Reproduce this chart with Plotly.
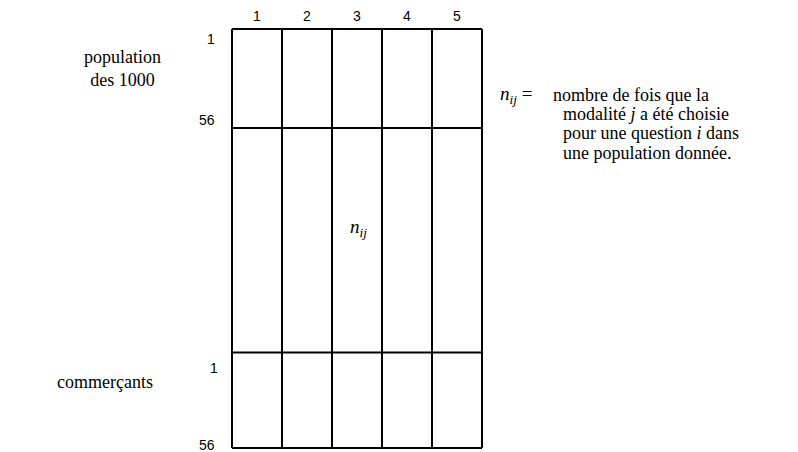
import plotly.graph_objects as go

# modalities (columns) and the three row blocks of the table
modalites = [1, 2, 3, 4, 5]
blocs = ["population<br>des 1000", "", "commerçants"]
bloc_hauteurs = [56, 127, 54]          # logical heights of the blocks
row_labels_top = ["1", "56"]
row_labels_bottom = ["1", "56"]
cell_label = "n<sub><i>ij</i></sub>"
legende = ["nombre de fois que la",
           "modalité <i>j</i> a été choisie",
           "pour une question <i>i</i> dans",
           "une population donnée."]

serif = "Liberation Serif, Times New Roman, serif"
sans = "Liberation Sans, Arial, sans-serif"

edges_x = [m - 0.5 for m in modalites] + [modalites[-1] + 0.5]
edges_y = [0]
for h in bloc_hauteurs:
    edges_y.append(edges_y[-1] + h)

xs, ys = [], []
for x in edges_x:
    xs += [x, x, None]
    ys += [edges_y[0], edges_y[-1], None]
for y in edges_y:
    xs += [edges_x[0], edges_x[-1], None]
    ys += [y, y, None]

fig = go.Figure()
fig.add_trace(go.Scatter(x=xs, y=ys, mode="lines",
                         line=dict(color="black", width=2),
                         hoverinfo="skip", showlegend=False))

ann = []
# column numbers
for m in modalites:
    ann.append(dict(x=m, y=edges_y[0], text=str(m), yanchor="bottom",
                    yshift=3, font=dict(family=sans, size=14)))
# row numbers
xl = edges_x[0] - 0.3
ann.append(dict(x=xl, y=edges_y[0] + 5.7, text=row_labels_top[0], xanchor="right",
                font=dict(family=sans, size=14)))
ann.append(dict(x=xl, y=edges_y[1] - 4.5, text=row_labels_top[1], xanchor="right",
                font=dict(family=sans, size=14)))
ann.append(dict(x=xl + 0.05, y=edges_y[2] + 8.7, text=row_labels_bottom[0], xanchor="right",
                font=dict(family=sans, size=14)))
ann.append(dict(x=xl, y=edges_y[3] - 1.5, text=row_labels_bottom[1], xanchor="right",
                font=dict(family=sans, size=14)))
# block names
ann.append(dict(x=-1.7, y=edges_y[0] + 22.3, text=blocs[0], align="center",
                font=dict(family=serif, size=18)))
ann.append(dict(x=-2.04, y=edges_y[2] + 16.5, text=blocs[2],
                font=dict(family=serif, size=18)))
# n_ij in the middle block
ann.append(dict(x=3.02, y=edges_y[1] + 56.6, text="<i>" + cell_label + "</i>",
                font=dict(family=serif, size=19)))
# legend text on the right
ann.append(dict(x=5.82, y=edges_y[0] + 37.3, text="<i>" + cell_label + "</i> =",
                xanchor="left", font=dict(family=serif, size=19)))
for k, line in enumerate(legende):
    ann.append(dict(x=6.88 if k == 0 else 7.08, y=edges_y[0] + 37.3 + 10.9 * k,
                    text=line, xanchor="left",
                    font=dict(family=serif, size=18)))
for a in ann:
    a.setdefault("showarrow", False)
    a.setdefault("xref", "x")
    a.setdefault("yref", "y")
    a["font"]["color"] = "black"

px_x = 50.0
px_y = 419.0 / edges_y[-1]
fig.update_layout(
    width=798, height=452,
    margin=dict(l=0, r=0, t=0, b=0),
    paper_bgcolor="white", plot_bgcolor="white",
    annotations=ann,
    xaxis=dict(range=[0.5 - 232 / px_x, 0.5 + (798 - 232) / px_x], visible=False),
    yaxis=dict(range=[edges_y[-1] + 4 / px_y, -29 / px_y], visible=False),
)

fig.write_html("out.html", config={"displayModeBar": False},
               post_script="document.body.style.margin='0';")
